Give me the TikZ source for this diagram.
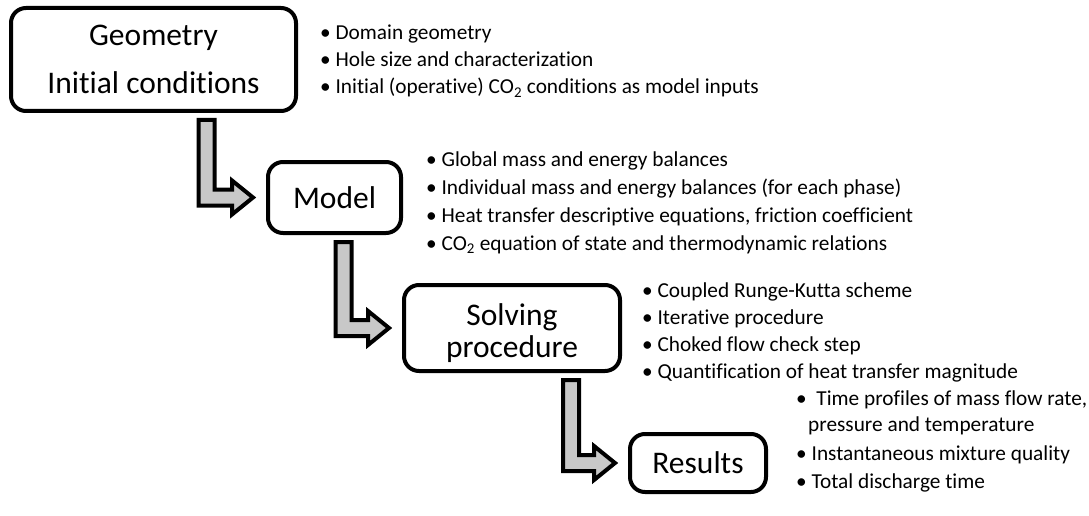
\documentclass[tikz,border=0pt]{standalone}
\usepackage{fontspec}
\setmainfont{Carlito}[Ligatures={NoCommon}]
\usetikzlibrary{calc}
\definecolor{arrowgray}{RGB}{200,200,200}
\tikzset{
  box/.style={draw=black, line width=4pt, rounded corners=15pt, fill=white, inner sep=0pt, align=center, font=\fontsize{31.5}{31.5}\selectfont},
  item/.style={anchor=base west, inner sep=0pt, font=\fontsize{21.3}{25}\selectfont},
  barrow/.style={draw=black, fill=arrowgray, line width=4pt, line join=miter},
}
% #1 source node, #2 target node, #3 coordinate giving the stem centre x
\newcommand\blockarrow[3]{%
  \draw[barrow] ($(#1.south -| #3)+(-8,7)$) -- ($(#1.south -| #3)+(8,7)$)
    -- ($(#2.west -| #3)+(8,-8)$) -- ($(#2.west)+(-34,-8)$) -- ($(#2.west)+(-34,-17)$)
    -- ($(#2.west)+(-13,0)$) -- ($(#2.west)+(-34,17)$) -- ($(#2.west)+(-34,8)$)
    -- ($(#2.west -| #3)+(-8,8)$) -- cycle;}
\begin{document}
\begin{tikzpicture}[x=1pt,y=-1pt]
\useasboundingbox (0,0) rectangle (1089,516);
% boxes
\node[box, minimum width=285pt, minimum height=103pt] (geo) at (153.5,59.5) {Geometry\\[17pt]Initial conditions};
\node[box, minimum width=133pt, minimum height=71pt] (model) at (334.5,197.5) {Model};
\node[box, minimum width=216pt, minimum height=86pt] (solve) at (512,328) {\rule{0pt}{32pt}Solving\\[1pt]procedure};
\node[box, minimum width=136pt, minimum height=58pt] (res) at (698,463) {Results};
% stem positions
\coordinate (s1) at (206.5,0);
\coordinate (s2) at (343.5,0);
\coordinate (s3) at (571,0);
\blockarrow{geo}{model}{s1}
\blockarrow{model}{solve}{s2}
\blockarrow{solve}{res}{s3}
% bullet lists
\node[item] (g1) at (320,40) {• Domain geometry};
\node[item] (g2) at (320,67) {• Hole size and characterization};
\node[item] (g3) at (320,94) {• Initial (operative) CO\textsubscript{2} conditions as model inputs};
\node[item] (m1) at (426,166) {• Global mass and energy balances};
\node[item] (m2) at (426,194) {• Individual mass and energy balances (for each phase)};
\node[item] (m3) at (426,222) {• Heat transfer descriptive equations, friction coefficient};
\node[item] (m4) at (426,250) {• CO\textsubscript{2} equation of state and thermodynamic relations};
\node[item] (p1) at (642,297) {• Coupled Runge-Kutta scheme};
\node[item] (p2) at (642,324) {• Iterative procedure};
\node[item] (p3) at (642,351) {• Choked flow check step};
\node[item] (p4) at (642,378) {• Quantification of heat transfer magnitude};
\node[item] (r1) at (796,405) {•\ \ Time profiles of mass flow rate,};
\node[item] (r2) at (808,431) {pressure and temperature};
\node[item] (r3) at (796,460) {• Instantaneous mixture quality};
\node[item] (r4) at (796,488) {• Total discharge time};
\end{tikzpicture}
\end{document}
